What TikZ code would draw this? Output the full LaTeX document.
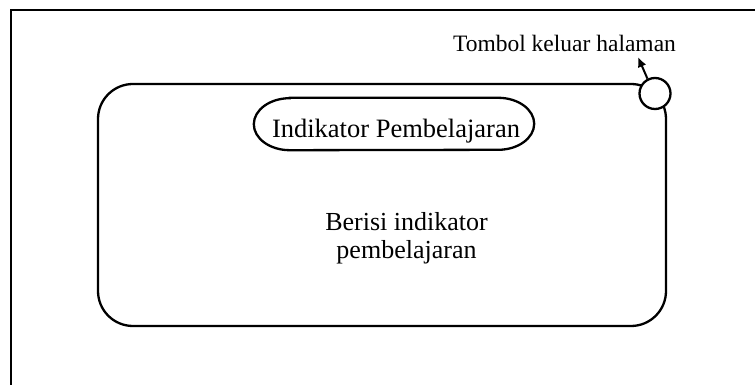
\documentclass[tikz,border=0pt]{standalone}
\usepackage{fontspec}
\setmainfont{Liberation Serif}
\usetikzlibrary{arrows.meta}
\begin{document}
\begin{tikzpicture}[x=1pt,y=1pt,
  garis/.style={line width=2.3pt},
  judul/.style={minimum width=280pt,minimum height=52pt,inner sep=0pt}]
  \useasboundingbox (0,0) rectangle (755,385);
  % bingkai halaman
  \draw[line width=2pt] (755,375) -- (11,375) -- (11,0);
  % kotak isi
  \draw[garis,rounded corners=35pt] (98,59) rectangle (666,301);
  \node[judul] (judul) at (394,261) {};
  \draw[garis] ([xshift=36pt]judul.north west) -- ([xshift=-36pt]judul.north east)
    arc[start angle=90,end angle=-90,x radius=36pt,y radius=26pt]
    -- ([xshift=36pt]judul.south west)
    arc[start angle=270,end angle=90,x radius=36pt,y radius=26pt] -- cycle;
  \node[anchor=base,font=\fontsize{26.5}{30}\selectfont] (teksjudul) at (396,247) {Indikator Pembelajaran};
  \node[align=center,font=\fontsize{26}{28}\selectfont] (isi) at (406.5,147) {Berisi indikator\\pembelajaran};
  % tombol keluar
  \node[draw,fill=white,circle,line width=2.3pt,minimum size=31pt,inner sep=0pt] (keluar) at (655,291.5) {};
  \node[anchor=base,font=\fontsize{23.5}{26}\selectfont] (tekskeluar) at (564.5,333) {Tombol keluar halaman};
  \coordinate (ujung) at (638,328);
  \draw[line width=2pt,-{Latex[length=10pt,width=9pt]}] (keluar.117) -- (ujung);
\end{tikzpicture}
\end{document}
